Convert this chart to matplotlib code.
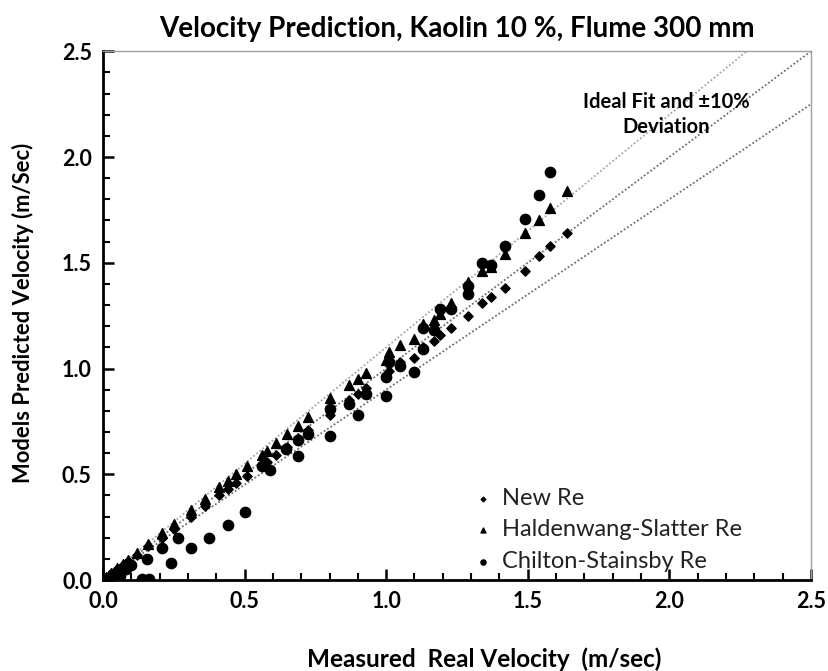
import numpy as np
import matplotlib.pyplot as plt
from matplotlib.ticker import MultipleLocator

plt.rcParams['font.family'] = ['Lato', 'DejaVu Sans']

# New Re (diamonds)
x_new = [0.01, 0.02, 0.03, 0.05, 0.07, 0.09, 0.12, 0.16, 0.21, 0.25, 0.31, 0.36, 0.41, 0.44,
         0.47, 0.51, 0.56, 0.58, 0.61, 0.65, 0.69, 0.725, 0.80, 0.87, 0.90, 0.93, 1.00, 1.01,
         1.05, 1.10, 1.13, 1.17, 1.19, 1.23, 1.29, 1.34, 1.37, 1.42, 1.49, 1.54, 1.58, 1.64]
y_new = [0.01, 0.02, 0.03, 0.05, 0.07, 0.09, 0.12, 0.16, 0.20, 0.24, 0.30, 0.35, 0.40, 0.43,
         0.46, 0.49, 0.54, 0.56, 0.59, 0.63, 0.67, 0.71, 0.78, 0.85, 0.88, 0.91, 0.97, 0.99,
         1.03, 1.05, 1.10, 1.13, 1.16, 1.19, 1.25, 1.31, 1.34, 1.38, 1.46, 1.53, 1.58, 1.64]

# Haldenwang-Slatter Re (triangles)
x_hs = [0.01, 0.02, 0.03, 0.05, 0.07, 0.09, 0.12, 0.16, 0.21, 0.25, 0.31, 0.36, 0.41, 0.44,
        0.47, 0.51, 0.56, 0.58, 0.61, 0.65, 0.69, 0.725, 0.80, 0.87, 0.90, 0.93, 1.00, 1.01,
        1.05, 1.10, 1.13, 1.17, 1.19, 1.23, 1.29, 1.34, 1.37, 1.42, 1.49, 1.54, 1.58, 1.64]
y_hs = [0.012, 0.022, 0.033, 0.055, 0.075, 0.095, 0.13, 0.17, 0.22, 0.265, 0.33, 0.385, 0.44, 0.47,
        0.50, 0.54, 0.59, 0.61, 0.65, 0.69, 0.73, 0.77, 0.86, 0.92, 0.95, 0.98, 1.04, 1.08,
        1.11, 1.14, 1.21, 1.23, 1.26, 1.31, 1.41, 1.46, 1.48, 1.54, 1.64, 1.70, 1.76, 1.84]

# Chilton-Stainsby Re (circles)
x_cs = [0.01, 0.02, 0.03, 0.04, 0.06, 0.08, 0.10, 0.137, 0.157, 0.163, 0.207, 0.24, 0.266, 0.311,
        0.374, 0.44, 0.50, 0.56, 0.59, 0.645, 0.69, 0.69, 0.725, 0.80, 0.80, 0.87, 0.90, 0.93,
        1.00, 1.00, 1.01, 1.05, 1.10, 1.13, 1.13, 1.17, 1.19, 1.23, 1.29, 1.29, 1.34, 1.37,
        1.42, 1.49, 1.54, 1.58]
y_cs = [0.0, 0.005, 0.01, 0.0, 0.02, 0.05, 0.07, 0.003, 0.10, 0.003, 0.153, 0.082, 0.20, 0.15,
        0.20, 0.26, 0.323, 0.54, 0.52, 0.62, 0.66, 0.585, 0.69, 0.81, 0.68, 0.83, 0.78, 0.88,
        0.96, 0.87, 1.03, 1.01, 0.985, 1.09, 1.19, 1.18, 1.28, 1.28, 1.39, 1.35, 1.50, 1.49,
        1.58, 1.705, 1.82, 1.93]

# ideal fit and +/-10 % lines
x_line = np.array([0.0, 2.5])
fit_factors = [1.1, 1.0, 0.9]
fit_colors = ['#a6a6a6', '#6e6e6e', '#6e6e6e']

fig = plt.figure(figsize=(8.29, 6.71), dpi=100)
ax = fig.add_axes([0.1242, 0.1356, 0.854, 0.788])

for f, c in zip(fit_factors, fit_colors):
    ax.plot(x_line, f * x_line, linestyle=(0, (1, 1.2)), color=c, linewidth=1.3, zorder=1)

ax.scatter(x_new, y_new, marker='D', s=22, color='black', label='New Re', zorder=3)
ax.scatter(x_hs, y_hs, marker='^', s=50, color='black', label='Haldenwang-Slatter Re', zorder=3)
ax.scatter(x_cs, y_cs, marker='o', s=55, color='black', label='Chilton-Stainsby Re', zorder=3)

ax.set_xlim(0, 2.5)
ax.set_ylim(0, 2.5)
ax.xaxis.set_major_locator(MultipleLocator(0.5))
ax.xaxis.set_minor_locator(MultipleLocator(0.1))
ax.yaxis.set_major_locator(MultipleLocator(0.5))
ax.yaxis.set_minor_locator(MultipleLocator(0.1))
ax.xaxis.set_major_formatter(lambda v, p: f'{v:.1f}')
ax.yaxis.set_major_formatter(lambda v, p: f'{v:.1f}')
ax.tick_params(which='major', direction='in', length=8, width=1.8, labelsize=15.5, pad=8)
ax.tick_params(which='minor', direction='in', length=5, width=1.5)
for lab in ax.get_xticklabels() + ax.get_yticklabels():
    lab.set_fontweight('bold')

for side in ['left', 'bottom']:
    ax.spines[side].set_linewidth(2)
for side in ['top', 'right']:
    ax.spines[side].set_linewidth(1)
    ax.spines[side].set_color('#a0a0a0')

ax.set_title('Velocity Prediction, Kaolin 10 %, Flume 300 mm', fontsize=20,
             fontweight='bold', pad=10)
ax.set_xlabel('Measured  Real Velocity  (m/sec)', fontsize=17.5, fontweight='bold')
ax.xaxis.set_label_coords(0.538, -0.127)
ax.set_ylabel('Models Predicted Velocity (m/Sec)', fontsize=15.8, fontweight='bold')
ax.yaxis.set_label_coords(-0.097, 0.505)

ax.text(1.99, 2.2, 'Ideal Fit and ±10%\nDeviation', ha='center', va='center',
        fontsize=14.5, fontweight='bold', linespacing=1.3)

ax.legend(loc='lower left', bbox_to_anchor=(0.49, -0.025), frameon=False, fontsize=17,
          markerscale=0.5, handletextpad=0.3, labelspacing=0.45, handlelength=1,
          labelcolor='#222222')

fig.savefig('out.png', dpi=100)
